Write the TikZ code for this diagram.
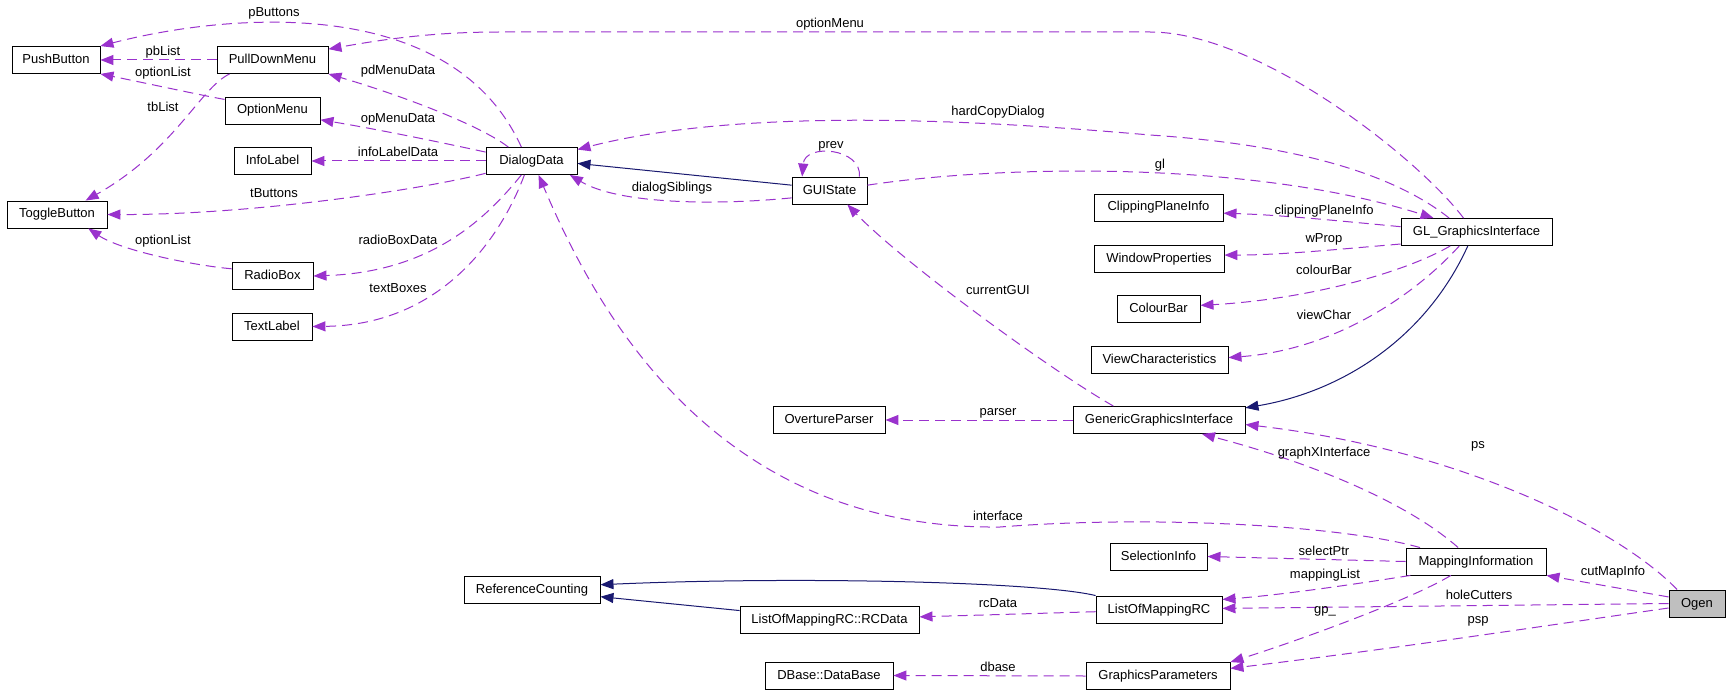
\documentclass[tikz,border=0pt]{standalone}
\usepackage{fontspec}
\setmainfont{Liberation Sans}
\usetikzlibrary{arrows.meta}
\definecolor{edgep}{HTML}{9A32CD}
\definecolor{edgen}{HTML}{191970}
\begin{document}
\begin{tikzpicture}[x=1pt,y=-1pt,
  cls/.style={draw=black, line width=0.9pt, fill=white, minimum height=27pt, inner sep=0pt,
    font=\fontsize{13}{15}\selectfont, text height=9.5pt, text depth=2.5pt},
  usage/.style={draw=edgep, line width=1pt, dash pattern=on 10pt off 6pt,
    -{Triangle[length=13pt,width=10pt,fill=edgep]}},
  inherit/.style={draw=edgen, line width=1pt, -{Triangle[length=13pt,width=10pt,fill=edgen]}},
  lbl/.style={font=\fontsize{13}{15}\selectfont, inner sep=0pt, anchor=center, text height=9.5pt, text depth=2.5pt}]
\useasboundingbox (0,0) rectangle (1731,695);
\fill[white] (0,0) rectangle (1731,695);

% nodes
\node[cls, minimum width=88pt]  (PushButton)   at (56,60)     {PushButton};
\node[cls, minimum width=111pt] (PullDownMenu) at (272.5,60)  {PullDownMenu};
\node[cls, minimum width=95pt]  (OptionMenu)   at (272.5,110.5) {OptionMenu};
\node[cls, minimum width=77pt]  (InfoLabel)    at (272.5,161) {InfoLabel};
\node[cls, minimum width=100pt] (ToggleButton) at (57,214.5)  {ToggleButton};
\node[cls, minimum width=81pt]  (RadioBox)     at (272.5,276) {RadioBox};
\node[cls, minimum width=80pt]  (TextLabel)    at (272,326.5) {TextLabel};
\node[cls, minimum width=91pt]  (DialogData)   at (531.5,161) {DialogData};
\node[cls, minimum width=75pt]  (GUIState)     at (829.5,190.5) {GUIState};
\node[cls, minimum width=129pt] (ClippingPlaneInfo) at (1158.5,207.5) {ClippingPlaneInfo};
\node[cls, minimum width=151pt] (GL)           at (1476.5,232) {GL\_GraphicsInterface};
\node[cls, minimum width=130pt] (WindowProperties) at (1159,258.5) {WindowProperties};
\node[cls, minimum width=83pt]  (ColourBar)    at (1158.5,309) {ColourBar};
\node[cls, minimum width=137pt] (ViewCharacteristics) at (1159.5,360) {ViewCharacteristics};
\node[cls, minimum width=112pt] (OvertureParser) at (829,420) {OvertureParser};
\node[cls, minimum width=172pt] (GGI)          at (1159,420) {GenericGraphicsInterface};
\node[cls, minimum width=97pt]  (SelectionInfo) at (1158.5,556.5) {SelectionInfo};
\node[cls, minimum width=140pt] (MI)           at (1476,561.5) {MappingInformation};
\node[cls, minimum width=136pt] (RC)           at (532,589.5) {ReferenceCounting};
\node[cls, minimum width=179pt] (RCData)       at (829.5,620) {ListOfMappingRC::RCData};
\node[cls, minimum width=126pt] (LOMRC)        at (1159,609.5) {ListOfMappingRC};
\node[cls, minimum width=128pt] (DBase)        at (829,675.5) {DBase::DataBase};
\node[cls, minimum width=144pt] (GP)           at (1158,676) {GraphicsParameters};
\node[cls, minimum width=56pt, fill={rgb,255:red,191;green,191;blue,191}] (Ogen) at (1697,603.5) {Ogen};

% edges
\draw[usage] (DialogData.126) .. controls (450,-10) and (220,15) .. (PushButton.north east);
\draw[usage] (PullDownMenu.west) -- (PushButton.east);
\draw[usage] (OptionMenu.167) .. controls (200,95) and (150,84) .. (PushButton.south east);
\draw[usage] (PullDownMenu.198) .. controls (200,88) and (175,150) .. (ToggleButton.26);
\draw[usage] (DialogData.149) .. controls (480,125) and (400,95) .. (PullDownMenu.south east);
\draw[usage] (DialogData.169) .. controls (430,140) and (370,128) .. (OptionMenu.349);
\draw[usage] (DialogData.west) -- (InfoLabel.east);
\draw[usage] (DialogData.195) .. controls (420,190) and (250,215) .. (ToggleButton.east);
\draw[usage] (RadioBox.170) .. controls (190,265) and (120,250) .. (ToggleButton.336);
\draw[usage] (DialogData.234) .. controls (485,220) and (430,272) .. (RadioBox.east);
\draw[usage] (DialogData.243) .. controls (500,240) and (440,325) .. (TextLabel.east);
\draw[usage] (GL.133) .. controls (1420,160) and (1260,32) .. (1150,32) -- (500,32) .. controls (430,32) and (380,40) .. (PullDownMenu.11);
\draw[usage] (GL.153) .. controls (1395,175) and (1300,145) .. (1150,135) .. controls (1000,122) and (750,105) .. (DialogData.14);
\draw[inherit] (GUIState.172) -- (DialogData.357);
\draw[usage] (GUIState.191) .. controls (720,205) and (620,205) .. (DialogData.340);
\draw[usage] (GUIState.25) .. controls (862,148) and (805,143) .. (GUIState.153);
\draw[usage] (GUIState.8) .. controls (1000,165) and (1250,160) .. (GL.162);
\draw[usage] (GL.176) .. controls (1330,220) and (1280,215) .. (ClippingPlaneInfo.355);
\draw[usage] (GL.189) .. controls (1330,250) and (1280,255) .. (WindowProperties.3);
\draw[usage] (GL.208) .. controls (1400,275) and (1300,300) .. (ColourBar.5);
\draw[usage] (GL.219) .. controls (1410,300) and (1330,350) .. (ViewCharacteristics.2);
\draw[inherit] (GL.238) .. controls (1425,340) and (1340,392) .. (GGI.8);
\draw[usage] (GGI.163) .. controls (1050,370) and (900,260) .. (GUIState.322);
\draw[usage] (GGI.west) -- (OvertureParser.east);
\draw[usage] (MI.166) .. controls (1340,525) and (1150,515) .. (1000,527) .. controls (720,530) and (600,320) .. (DialogData.297);
\draw[usage] (MI.142) .. controls (1410,505) and (1320,465) .. (GGI.342);
\draw[usage] (Ogen.145) .. controls (1615,525) and (1450,448) .. (GGI.357);
\draw[usage] (MI.west) -- (SelectionInfo.east);
\draw[usage] (MI.192) .. controls (1350,585) and (1280,595) .. (LOMRC.9);
\draw[usage] (Ogen.west) -- (LOMRC.1);
\draw[usage] (Ogen.167) -- (MI.south east);
\draw[usage] (MI.209) .. controls (1410,600) and (1300,640) .. (GP.north east);
\draw[usage] (Ogen.189) .. controls (1550,625) and (1400,648) .. (GP.6);
\draw[inherit] (LOMRC.north west) .. controls (1040,582) and (800,576) .. (RC.4);
\draw[inherit] (RCData.174) -- (RC.354);
\draw[usage] (LOMRC.182) -- (RCData.2);
\draw[usage] (GP.west) -- (DBase.east);

% labels
\node[lbl] (l1)  at (274,13)   {pButtons};
\node[lbl] (l2)  at (163,52)   {pbList};
\node[lbl] (l3)  at (163,73)   {optionList};
\node[lbl] (l4)  at (163,108)  {tbList};
\node[lbl] (l5)  at (398,71)   {pdMenuData};
\node[lbl] (l6)  at (398,119)  {opMenuData};
\node[lbl] (l7)  at (398,153)  {infoLabelData};
\node[lbl] (l8)  at (274,194)  {tButtons};
\node[lbl] (l9)  at (163,241)  {optionList};
\node[lbl] (l10) at (398,241)  {radioBoxData};
\node[lbl] (l11) at (398,289)  {textBoxes};
\node[lbl] (l12) at (830,24)   {optionMenu};
\node[lbl] (l13) at (998,112)  {hardCopyDialog};
\node[lbl] (l14) at (831,145)  {prev};
\node[lbl] (l15) at (672,188)  {dialogSiblings};
\node[lbl] (l16) at (1160,165) {gl};
\node[lbl] (l17) at (1324,211) {clippingPlaneInfo};
\node[lbl] (l18) at (1324,239) {wProp};
\node[lbl] (l19) at (1324,271) {colourBar};
\node[lbl] (l20) at (1324,316) {viewChar};
\node[lbl] (l21) at (998,291)  {currentGUI};
\node[lbl] (l22) at (998,412)  {parser};
\node[lbl] (l23) at (1478,445) {ps};
\node[lbl] (l24) at (1324,453) {graphXInterface};
\node[lbl] (l25) at (998,517)  {interface};
\node[lbl] (l26) at (1324,552) {selectPtr};
\node[lbl] (l27) at (1325,575) {mappingList};
\node[lbl] (l28) at (1613,572) {cutMapInfo};
\node[lbl] (l29) at (1479,596) {holeCutters};
\node[lbl] (l30) at (1325,610) {gp\_};
\node[lbl] (l31) at (1478,620) {psp};
\node[lbl] (l32) at (998,604)  {rcData};
\node[lbl] (l33) at (998,668)  {dbase};
\end{tikzpicture}
\end{document}
